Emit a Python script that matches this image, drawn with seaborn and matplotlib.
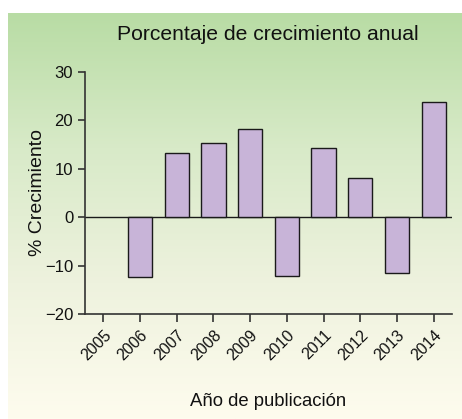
import numpy as np
import matplotlib
matplotlib.use("Agg")
import matplotlib.pyplot as plt
import seaborn as sns
from matplotlib.colors import LinearSegmentedColormap

years = ["2005", "2006", "2007", "2008", "2009", "2010", "2011", "2012", "2013", "2014"]
growth = [np.nan, -12.4, 13.3, 15.3, 18.3, -12.1, 14.4, 8.1, -11.6, 23.8]
yticks = [-20, -10, 0, 10, 20, 30]

sns.set_theme(style="ticks")
plt.rcParams.update({"font.family": ["Liberation Sans", "DejaVu Sans"],
                     "axes.unicode_minus": True})

fig = plt.figure(figsize=(4.62, 4.19), dpi=100)
fig.patch.set_facecolor("white")

# fondo degradado verde -> crema
bg = fig.add_axes([8/462, 0, 1 - 8/462, 1 - 13/419], zorder=0)
cmap = LinearSegmentedColormap.from_list("bg", ["#fefcee", "#eef2de", "#d8eac8", "#b8dca4"])
bg.imshow(np.linspace(0, 1, 256)[:, None], aspect="auto", cmap=cmap, origin="lower",
          extent=[0, 1, 0, 1])
bg.axis("off")

ax = fig.add_axes([85/462, 1 - 314/419, (452 - 85)/462, (314 - 72)/419], zorder=1)
ax.set_facecolor("none")
sns.barplot(x=years, y=growth, order=years, color="#c8b4d8", saturation=1,
            edgecolor="#1a1a1a", linewidth=1.0, width=0.66, ax=ax, zorder=3)
ax.axhline(0, color="#1a1a1a", lw=1.0, zorder=2)
ax.set_xlim(-0.5, 9.5)
ax.set_ylim(-20, 30)
ax.set_yticks(yticks)
ax.set_yticklabels([str(t).replace("-", "\u2212") for t in yticks])
for s in ["top", "right"]:
    ax.spines[s].set_visible(False)
for s in ["left", "bottom"]:
    ax.spines[s].set_color("#333333")
    ax.spines[s].set_linewidth(1.2)
ax.tick_params(axis="both", colors="#333333", width=1.2, length=5, labelsize=12,
               labelcolor="#111111")
ax.tick_params(axis="x", length=6, labelsize=11.5)
plt.setp(ax.get_xticklabels(), rotation=45, ha="right", rotation_mode="anchor")
ax.set_xlabel("Año de publicación", fontsize=13.3, color="#111111", labelpad=22)
ax.set_ylabel("% Crecimiento", fontsize=14, color="#111111", labelpad=-1)
fig.text(268/462, 1 - 35/419, "Porcentaje de crecimiento anual", fontsize=15.2,
         ha="center", va="center", color="#111111", zorder=5)

fig.savefig("out.png", dpi=100, facecolor=fig.get_facecolor())
